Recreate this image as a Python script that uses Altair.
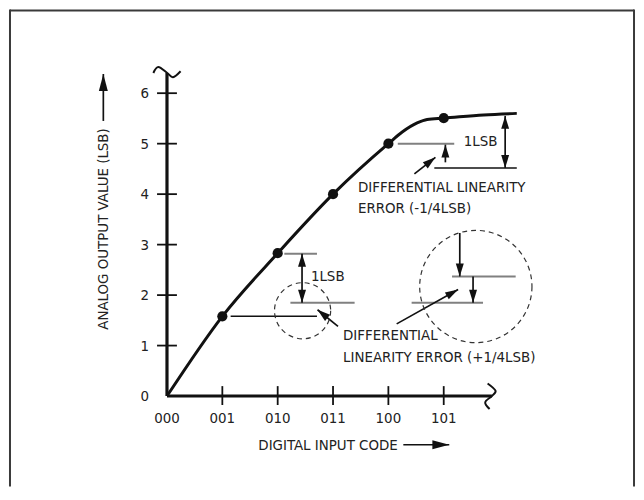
import math
import altair as alt
import pandas as pd

# ---------------- values ----------------
code_labels = ["000", "001", "010", "011", "100", "101"]
code_values = [0, 1, 2, 3, 4, 5]
lsb_ticks = [0, 1, 2, 3, 4, 5, 6]

# measured transfer points (input code -> output in LSB)
dot_code = [1, 2, 3, 4, 5]
dot_lsb = [1.58, 2.83, 4.0, 5.0, 5.505]

# the transfer curve
curve_code = [0, 1, 2, 3, 4, 4.25, 4.52, 4.7, 5, 5.72, 6.32]
curve_lsb = [0, 1.58, 2.83, 4.0, 5.0, 5.23, 5.41, 5.48, 5.505, 5.57, 5.6]

# gray reference levels: from code, to code, level (LSB)
gray_from = [2.12, 2.23, 5.15, 4.42, 4.17]
gray_to = [2.71, 3.39, 6.30, 5.71, 5.19]
gray_lsb = [2.82, 1.85, 2.37, 1.85, 5.0]

# thin black reference levels
black_from = [1.15, 4.83]
black_to = [2.71, 6.32]
black_lsb = [1.58, 4.52]

# annotation arrows: tail (code, LSB) -> tip (code, LSB), heads
arrow_c0 = [2.44, 3.09, 5.29, 5.53, 4.15, 5.03, 6.11, 4.47]
arrow_v0 = [2.82, 1.38, 3.23, 2.37, 1.43, 4.63, 4.52, 4.40]
arrow_c1 = [2.44, 2.72, 5.29, 5.53, 5.26, 5.03, 6.11, 4.85]
arrow_v1 = [1.85, 1.71, 2.37, 1.85, 2.11, 4.98, 5.55, 4.73]
arrow_both = [True, False, False, False, False, False, True, False]

# dashed circles: centre (code, LSB)
circle_c = [2.45, 5.58]
circle_v = [1.69, 2.17]

# annotation texts
note_text = ["1LSB", "1LSB", "DIFFERENTIAL LINEARITY", "ERROR (-1/4LSB)",
             "DIFFERENTIAL", "LINEARITY ERROR (+1/4LSB)"]
note_c = [2.60, 5.36, 3.45, 3.45, 3.18, 3.18]
note_v = [2.38, 5.05, 4.14, 3.72, 1.20, 0.77]

x_title = "DIGITAL INPUT CODE"
y_title = "ANALOG OUTPUT VALUE (LSB)"

# ---------------- layout / style ----------------
W, H = 628, 480
PX_X, PX_Y = 55.7, 50.8          # pixels per code step / per LSB
ORIGIN_X, ORIGIN_Y = 158, 389    # pixel of (000, 0) inside the plot
XDOM = [-ORIGIN_X / PX_X, (W - ORIGIN_X) / PX_X]
YDOM = [(ORIGIN_Y - H) / PX_Y, ORIGIN_Y / PX_Y]
FONT = "DejaVu Sans Condensed, Liberation Sans Narrow, sans-serif"
FS = 15
TXT = "#222222"
INK = "#111111"
GRAY = "#808080"

Y_AXIS_TOP = 6.40
X_AXIS_END = 5.87
def dx(px): return px / PX_X
def dy(px): return px / PX_Y

xs = alt.Scale(domain=XDOM, nice=False, zero=False)
ys = alt.Scale(domain=YDOM, nice=False, zero=False)
X = lambda f="x": alt.X(f"{f}:Q", scale=xs, axis=None)
Y = lambda f="y": alt.Y(f"{f}:Q", scale=ys, axis=None)

HEAD = "M0,0L4,13L-4,13Z"
BIG_HEAD = "M0,0L4.5,17L-4.5,17Z"

def angle(c0, v0, c1, v1):
    return math.degrees(math.atan2((c1 - c0) * PX_X, (v1 - v0) * PX_Y)) % 360

# ---------------- rules ----------------
rules = []
# axes
rules.append(dict(x=0, y=0, x2=0, y2=Y_AXIS_TOP, c=INK, w=3.2))
rules.append(dict(x=0, y=0, x2=X_AXIS_END, y2=0, c=INK, w=3))
for v in lsb_ticks[1:]:
    rules.append(dict(x=-dx(10), y=v, x2=dx(10), y2=v, c=INK, w=1.8))
for c in code_values[1:]:
    rules.append(dict(x=c, y=dy(10), x2=c, y2=-dy(9), c=INK, w=1.8))
for a, b, v in zip(gray_from, gray_to, gray_lsb):
    rules.append(dict(x=a, y=v, x2=b, y2=v, c=GRAY, w=2))
for a, b, v in zip(black_from, black_to, black_lsb):
    rules.append(dict(x=a, y=v, x2=b, y2=v, c=INK, w=1.5))

heads = []
for c0, v0, c1, v1, both in zip(arrow_c0, arrow_v0, arrow_c1, arrow_v1, arrow_both):
    rules.append(dict(x=c0, y=v0, x2=c1, y2=v1, c=INK, w=1.7))
    heads.append(dict(x=c1, y=v1, a=angle(c0, v0, c1, v1), p=HEAD))
    if both:
        heads.append(dict(x=c0, y=v0, a=angle(c1, v1, c0, v0), p=HEAD))

# axis-title arrows
ya = (-1.15, 5.45, -1.15, 6.38)
xa = (4.27, -0.965, 5.10, -0.965)
for c0, v0, c1, v1 in (ya, xa):
    rules.append(dict(x=c0, y=v0, x2=c1, y2=v1, c=INK, w=1.7))
    heads.append(dict(x=c1, y=v1, a=angle(c0, v0, c1, v1), p=BIG_HEAD))

rules_df = pd.DataFrame(rules)
heads_df = pd.DataFrame(heads)

# break marks (tilde glyphs drawn as small curves), pixel offsets
tilde_rows = []
top_dx = [-13.7, -8.7, 0.3, 6.0, 13.7]
top_dy = [0.0, 6.0, 0.0, -4.3, 1.7]
for i, (a, b) in enumerate(zip(top_dx, top_dy)):
    tilde_rows.append(dict(g="top", i=i, x=dx(a), y=Y_AXIS_TOP + dy(b)))
end_dx = [-4.3, 3.7, 0.0, -6.7, -2.3]
end_dy = [12.7, 5.3, 0.0, -6.3, -13.0]
for i, (a, b) in enumerate(zip(end_dx, end_dy)):
    tilde_rows.append(dict(g="end", i=i, x=X_AXIS_END + dx(a), y=dy(b)))
tilde_df = pd.DataFrame(tilde_rows)

curve_df = pd.DataFrame({"x": curve_code, "y": curve_lsb})
dots_df = pd.DataFrame({"x": dot_code, "y": dot_lsb})
circ_df = pd.DataFrame({"x": circle_c, "y": circle_v, "s": [56.5 ** 2, 113 ** 2]})
notes_df = pd.DataFrame({"x": note_c + [1.65], "y": note_v + [-0.965],
                         "t": note_text + [x_title]})
ylab_df = pd.DataFrame({"x": [-dx(18)] * len(lsb_ticks), "y": lsb_ticks,
                        "t": [str(v) for v in lsb_ticks]})
xlab_df = pd.DataFrame({"x": code_values, "y": [-dy(22)] * len(code_values),
                        "t": code_labels})
ytitle_df = pd.DataFrame({"x": [-1.16], "y": [3.31], "t": [y_title]})
one = pd.DataFrame({"k": [0]})

# ---------------- layers ----------------
frame = [
    alt.Chart(one).mark_rule(color="#3a3a3a", strokeWidth=2).encode(
        x=alt.value(0), y=alt.value(0), y2=alt.value(H)),
    alt.Chart(one).mark_rule(color="#3a3a3a", strokeWidth=2).encode(
        x=alt.value(0), x2=alt.value(W), y=alt.value(1)),
    alt.Chart(one).mark_rule(color="#3a3a3a", strokeWidth=2).encode(
        x=alt.value(W), y=alt.value(0), y2=alt.value(H)),
]

rule_layer = alt.Chart(rules_df).mark_rule(strokeCap="butt").encode(
    x=X(), y=Y(), x2="x2:Q", y2="y2:Q",
    color=alt.Color("c:N", scale=None),
    strokeWidth=alt.StrokeWidth("w:Q", scale=None))

tilde_layer = alt.Chart(tilde_df).mark_line(
    interpolate="cardinal", color=INK, strokeWidth=2).encode(
    x=X(), y=Y(), detail="g:N", order="i:Q")

curve_layer = alt.Chart(curve_df).mark_line(
    interpolate="monotone", color=INK, strokeWidth=3).encode(x=X(), y=Y())

dots_layer = alt.Chart(dots_df).mark_circle(size=105, color=INK, opacity=1).encode(
    x=X(), y=Y())

circle_layer = alt.Chart(circ_df).mark_point(
    shape="circle", filled=False, strokeDash=[5, 4], strokeWidth=1.2,
    color="#333333", opacity=1).encode(
    x=X(), y=Y(), size=alt.Size("s:Q", scale=None))

head_layer = alt.Chart(heads_df).mark_point(
    filled=True, opacity=1, color=INK, size=4, strokeWidth=0).encode(
    x=X(), y=Y(), angle=alt.Angle("a:Q", scale=None),
    shape=alt.Shape("p:N", scale=None))

txt = dict(font=FONT, fontSize=FS, color=TXT, baseline="middle")
notes_layer = alt.Chart(notes_df).mark_text(align="left", **txt).encode(
    x=X(), y=Y(), text="t:N")
ylab_layer = alt.Chart(ylab_df).mark_text(align="right", **txt).encode(
    x=X(), y=Y(), text="t:N")
xlab_layer = alt.Chart(xlab_df).mark_text(align="center", **txt).encode(
    x=X(), y=Y(), text="t:N")
ytitle_layer = alt.Chart(ytitle_df).mark_text(align="center", angle=270, **txt).encode(
    x=X(), y=Y(), text="t:N")

chart = alt.layer(
    *frame, rule_layer, tilde_layer, curve_layer, dots_layer, circle_layer,
    head_layer, notes_layer, ylab_layer, xlab_layer, ytitle_layer
).properties(
    width=W, height=H,
    padding={"left": 2, "top": 0, "right": 2, "bottom": 0},
    autosize=alt.AutoSizeParams(type="none"),
).configure_view(stroke=None)

chart.save("out.html", embed_options={"renderer": "svg", "actions": False})
